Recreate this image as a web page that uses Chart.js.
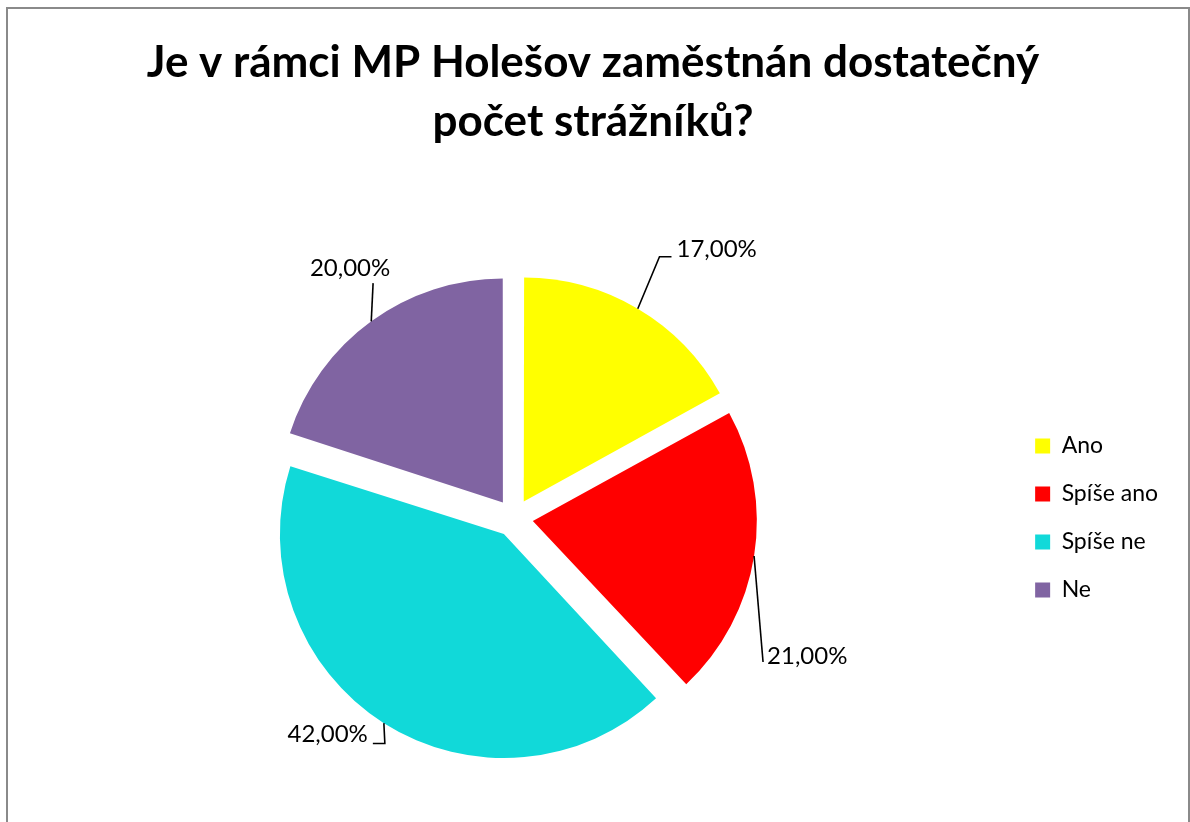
<!DOCTYPE html>
<html><head><meta charset="utf-8">
<script src="https://cdn.jsdelivr.net/npm/chart.js@4.4.1/dist/chart.umd.min.js"></script>
<style>
html,body{margin:0;padding:0;background:#fff;}
#wrap{position:relative;width:1190px;height:822px;overflow:hidden;}
#frame{position:absolute;left:6px;top:7px;width:1180px;height:840px;border:2px solid #8a8a8a;pointer-events:none;}
canvas{position:absolute;left:0;top:0;}
</style></head><body>
<div id="wrap"><canvas id="c" width="1190" height="822"></canvas><div id="frame"></div></div>
<script>
// ---- data ----
const titleLines = ['Je v rámci MP Holešov zaměstnán dostatečný', 'počet strážníků?'];
const categories = ['Ano', 'Spíše ano', 'Spíše ne', 'Ne'];
const values = [17, 21, 42, 20];
const colors = ['#FFFF00', '#FF0000', '#11D9D9', '#8064A2'];

// ---- label placement (relative to each slice) ----
const labelLayout = [
  {dTheta: -1.6, dist: 280, elbow: 12, align: 'left', dx: 5, dy: -7},
  {dTheta: 22.5, dist: 270, elbow: 0, align: 'left', dx: 4, dy: -6},
  {dTheta: -2.8, dist: 241, elbow: -12, align: 'right', dx: -5, dy: -9},
  {dTheta: 5.4, dist: 255, elbow: 0, align: 'center', dx: -23, dy: -15}
];

const PIE_RADIUS = 224;
const fmt = v => v.toFixed(2).replace('.', ',') + '%';
const FONT = 'Lato, "Open Sans", sans-serif';

function arcGeom(arc) {
  const p = arc.getProps(['x', 'y', 'startAngle', 'endAngle']);
  const mid = (p.startAngle + p.endAngle) / 2;
  const shift = (arc.options.offset || 0) / 4;
  const circ = p.endAngle - p.startAngle;
  const fix = 1 - Math.sin(Math.min(Math.PI, circ));
  return {mid, shift, fix, vx: p.x + Math.cos(mid) * shift, vy: p.y + Math.sin(mid) * shift};
}

// keep the visible radius of every exploded slice equal
const equalRadius = {
  id: 'equalRadius',
  beforeDatasetsDraw(chart) {
    chart.getDatasetMeta(0).data.forEach(arc => {
      const g = arcGeom(arc);
      arc.outerRadius = PIE_RADIUS - g.shift * g.fix;
    });
  }
};

const leaderLabels = {
  id: 'leaderLabels',
  afterDatasetsDraw(chart) {
    const ctx = chart.ctx;
    const meta = chart.getDatasetMeta(0);
    ctx.save();
    meta.data.forEach((arc, i) => {
      const g = arcGeom(arc);
      const L = labelLayout[i];
      const a2 = g.mid + L.dTheta * Math.PI / 180;
      const sx = g.vx + Math.cos(g.mid) * PIE_RADIUS;
      const sy = g.vy + Math.sin(g.mid) * PIE_RADIUS;
      const ex = g.vx + Math.cos(a2) * L.dist;
      const ey = g.vy + Math.sin(a2) * L.dist;
      const fx = ex + L.elbow;
      ctx.beginPath();
      ctx.moveTo(sx, sy);
      ctx.lineTo(ex, ey);
      if (L.elbow) ctx.lineTo(fx, ey);
      ctx.strokeStyle = '#000';
      ctx.lineWidth = 1.6;
      ctx.stroke();
      ctx.fillStyle = '#000';
      ctx.font = '24px ' + FONT;
      ctx.textAlign = L.align;
      ctx.textBaseline = 'middle';
      ctx.fillText(fmt(values[i]), fx + L.dx, ey + L.dy);
    });
    ctx.restore();
  }
};

new Chart(document.getElementById('c'), {
  type: 'pie',
  data: {
    labels: categories,
    datasets: [{
      data: values,
      backgroundColor: colors,
      borderWidth: 0,
      offset: 76
    }]
  },
  options: {
    responsive: false,
    animation: false,
    devicePixelRatio: 1,
    radius: PIE_RADIUS,
    layout: {padding: {left: 18, right: 22, top: 0, bottom: 0}},
    plugins: {
      tooltip: {enabled: false},
      title: {
        display: true,
        text: titleLines,
        color: '#000',
        font: {family: FONT, size: 44, weight: 'bold', lineHeight: 1.34},
        padding: {top: 33, bottom: 63}
      },
      legend: {
        position: 'right',
        align: 'center',
        fullSize: false,
        labels: {
          color: '#000',
          font: {family: FONT, size: 23},
          boxWidth: 15,
          boxHeight: 15,
          padding: 25
        }
      }
    }
  },
  plugins: [equalRadius, leaderLabels]
});
</script>
</body></html>
